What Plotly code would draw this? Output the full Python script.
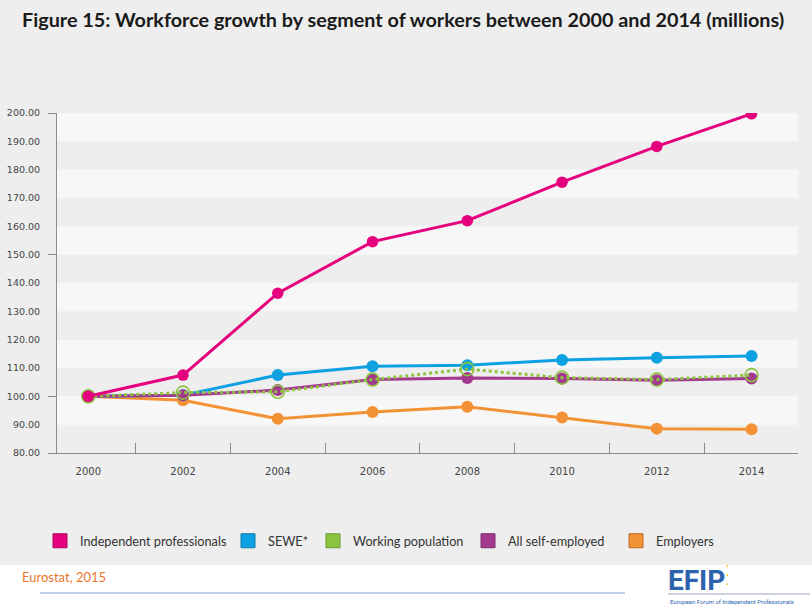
import plotly.graph_objects as go

years = ["2000", "2002", "2004", "2006", "2008", "2010", "2012", "2014"]
independent_professionals = [100.0, 107.5, 136.4, 154.6, 162.0, 175.6, 188.2, 199.7]
sewe = [100.0, 100.4, 107.5, 110.6, 111.0, 112.8, 113.6, 114.2]
working_population = [100.0, 101.3, 101.6, 105.9, 109.6, 106.6, 105.9, 107.5]
all_self_employed = [100.0, 100.4, 102.2, 105.9, 106.5, 106.3, 105.7, 106.3]
employers = [100.0, 98.6, 92.1, 94.5, 96.3, 92.5, 88.6, 88.4]

series_names = ["Independent professionals", "SEWE*", "Working population",
                "All self-employed", "Employers"]
y_ticks = list(range(80, 201, 10))

PINK = "#e5007d"
BLUE = "#0ea1e2"
GREEN = "#8cc43f"
PURPLE = "#a3398f"
ORANGE = "#f39234"
PAGE_BG = "#eeeeee"
BAND = "#f7f7f7"

W, H = 812, 616
ML, MR, MT, MB = 57, 14, 113, 163
PW, PH = W - ML - MR, H - MT - MB


def px_x(px):
    return (px - ML) / PW


def px_y(py):
    return (H - MB - py) / PH


fig = go.Figure()

# draw order so overlaps resemble the reference
fig.add_trace(go.Scatter(x=years, y=employers, mode="lines+markers", name="Employers",
                         line=dict(color=ORANGE, width=3),
                         marker=dict(color=ORANGE, size=12), showlegend=False))
fig.add_trace(go.Scatter(x=years, y=sewe, mode="lines+markers", name="SEWE*",
                         line=dict(color=BLUE, width=3),
                         marker=dict(color=BLUE, size=12), showlegend=False))
fig.add_trace(go.Scatter(x=years, y=all_self_employed, mode="lines+markers",
                         name="All self-employed",
                         line=dict(color=PURPLE, width=3),
                         marker=dict(color=PURPLE, size=12), showlegend=False))
fig.add_trace(go.Scatter(x=years, y=working_population, mode="lines+markers",
                         name="Working population",
                         line=dict(color=GREEN, width=3, dash="dot"),
                         marker=dict(color=GREEN, size=13, symbol="circle-open",
                                     line=dict(width=1.6, color=GREEN)),
                         showlegend=False))
fig.add_trace(go.Scatter(x=years, y=independent_professionals, mode="lines+markers",
                         name="Independent professionals",
                         line=dict(color=PINK, width=3),
                         marker=dict(color=PINK, size=11.5), showlegend=False))

# legend entries (square swatches), each in its own legend for exact placement
colors = [PINK, BLUE, GREEN, PURPLE, ORANGE]
borders = ["#b0005f", "#0a78aa", "#6a9a2c", "#7a2a6a", "#c06a20"]
legend_px = [40, 228, 313, 468, 616]
legend_ids = ["legend", "legend2", "legend3", "legend4", "legend5"]
for name, c, b, lid in zip(series_names, colors, borders, legend_ids):
    fig.add_trace(go.Scatter(x=[None], y=[None], mode="markers", name=name,
                             marker=dict(color=c, size=14, symbol="square",
                                         line=dict(color=b, width=1)),
                             showlegend=True, legend=lid))

layout_legends = {}
for lid, lx in zip(legend_ids, legend_px):
    layout_legends[lid] = dict(x=px_x(lx), y=px_y(541), xref="paper", yref="paper",
                               xanchor="left", yanchor="middle",
                               bgcolor="rgba(0,0,0,0)", itemwidth=30,
                               font=dict(family="Lato", size=12.7, color="#333333"),
                               orientation="h")

shapes = []
# alternating horizontal bands
for v in y_ticks[:-1]:
    if (v // 10) % 2 == 1:
        shapes.append(dict(type="rect", xref="paper", yref="y", x0=0, x1=1,
                           y0=v, y1=v + 10, fillcolor=BAND, line=dict(width=0),
                           layer="below"))
# white footer
shapes.append(dict(type="rect", xref="paper", yref="paper",
                   x0=px_x(-5), x1=px_x(W + 5), y0=px_y(565), y1=px_y(H + 5),
                   fillcolor="white", line=dict(width=0), layer="below"))
# footer line
shapes.append(dict(type="line", xref="paper", yref="paper",
                   x0=px_x(40), x1=px_x(625), y0=px_y(593), y1=px_y(593),
                   line=dict(color="#a9c1e3", width=1.5)))
# logo underline
shapes.append(dict(type="line", xref="paper", yref="paper",
                   x0=px_x(668), x1=px_x(810), y0=px_y(594), y1=px_y(594),
                   line=dict(color="#9aa6b8", width=1)))

annotations = [
    dict(text="Eurostat, 2015", x=px_x(20), y=px_y(577), xref="paper", yref="paper",
         xanchor="left", yanchor="middle", showarrow=False,
         font=dict(family="Lato", size=13, color="#e8772e")),
    dict(text="<b>EFIP</b>", x=px_x(666), y=px_y(580), xref="paper", yref="paper",
         xanchor="left", yanchor="middle", showarrow=False,
         font=dict(family="Liberation Sans Narrow, Roboto", size=28, color="#2b64ad")),
    dict(text="European Forum of Independent Professionals", x=px_x(668), y=px_y(601),
         xref="paper", yref="paper", xanchor="left", yanchor="middle", showarrow=False,
         font=dict(family="Roboto", size=6, color="#2b64ad")),
    dict(text="•<br>•<br>•", x=px_x(727), y=px_y(575), xref="paper", yref="paper",
         xanchor="center", yanchor="middle", showarrow=False,
         font=dict(size=7, color="#f2c300")),
]

fig.update_layout(
    width=W, height=H,
    margin=dict(l=ML, r=MR, t=MT, b=MB, pad=0),
    paper_bgcolor=PAGE_BG,
    plot_bgcolor=PAGE_BG,
    title=dict(text="<b>Figure 15: Workforce growth by segment of workers between 2000 and 2014 (millions)</b>",
               x=22 / W, y=1 - 20 / H, xref="container", yref="container",
               xanchor="left", yanchor="middle",
               font=dict(family="Lato", size=19.8, color="#1a1a1a")),
    shapes=shapes,
    annotations=annotations,
    **layout_legends,
)

fig.update_xaxes(type="category", range=[-0.33, 7.49], tickson="boundaries",
                 ticks="inside", ticklen=10, tickcolor="#8c8c8c", tickwidth=1,
                 ticklabelstandoff=9, automargin=False,
                 showline=True, linecolor="#8c8c8c", linewidth=1,
                 showgrid=False, zeroline=False,
                 tickfont=dict(family="DejaVu Sans", size=10, color="#444444"))
fig.update_yaxes(range=[80, 200], tickvals=y_ticks,
                 ticktext=[f"{v:.2f}" for v in y_ticks],
                 ticks="outside", ticklen=14, tickcolor="rgba(0,0,0,0)",
                 automargin=False,
                 minor=dict(tickvals=[80, 100, 150, 200], ticks="outside", ticklen=8,
                            tickcolor="#8c8c8c", tickwidth=1, showgrid=False),
                 showline=True, linecolor="#8c8c8c", linewidth=1,
                 showgrid=False, zeroline=False,
                 tickfont=dict(family="DejaVu Sans", size=9.5, color="#444444"))

fig.write_html("out.html")
